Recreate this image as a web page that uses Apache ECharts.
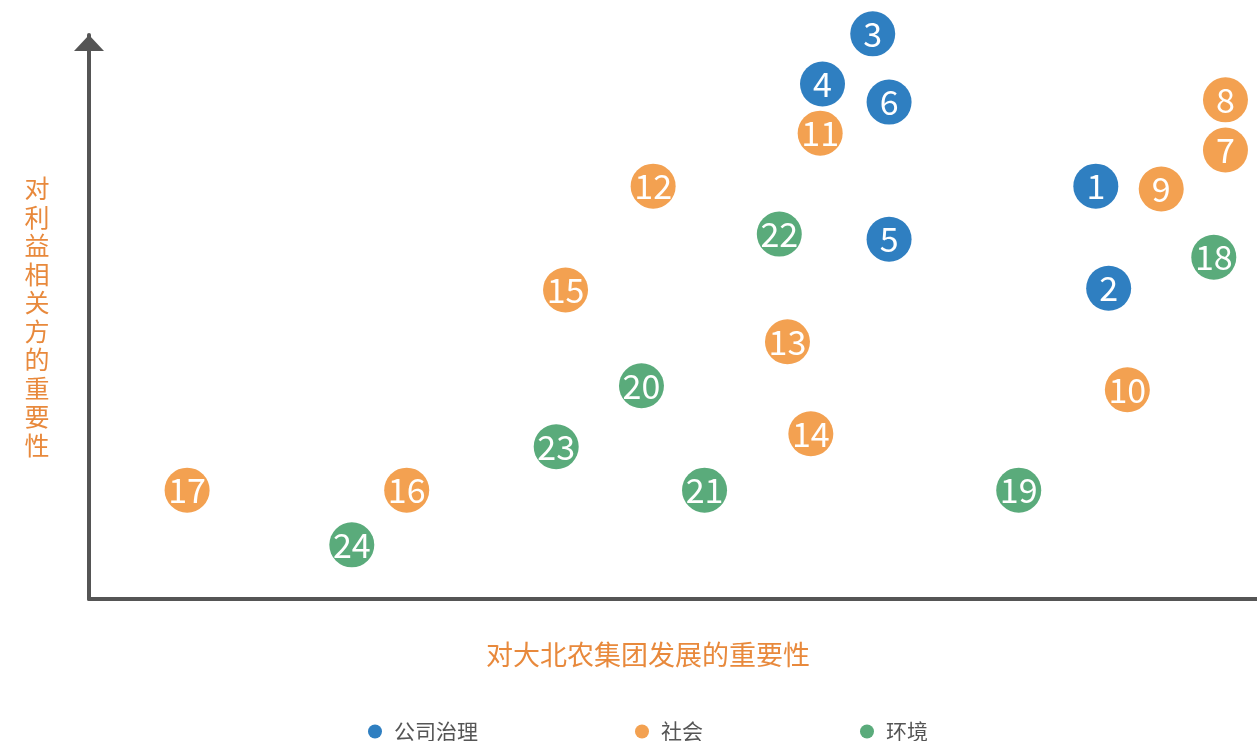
<!DOCTYPE html>
<html>
<head>
<meta charset="utf-8">
<script src="https://cdn.jsdelivr.net/npm/echarts@6/dist/echarts.min.js"></script>
<style>html,body{margin:0;padding:0;background:#fff;}#chart{width:1257px;height:741px;}</style>
</head>
<body>
<div id="chart"></div>
<script>
// category names
const categories = ['公司治理', '社会', '环境'];
const colors = ['#2f7fc1', '#f3a151', '#5aab7b'];
// [x: importance to company, y: importance to stakeholders, issue id]
const governance = [
  [86.2, 73.2, 1], [87.3, 55.1, 2], [67.1, 100.2, 3], [62.8, 91.3, 4], [68.5, 63.8, 5], [68.5, 88.1, 6]
];
const social = [
  [97.3, 79.6, 7], [97.3, 88.5, 8], [91.8, 72.7, 9], [88.9, 37.1, 10], [62.6, 82.6, 11], [48.3, 73.2, 12],
  [59.8, 45.6, 13], [61.8, 29.3, 14], [40.8, 54.8, 15], [27.2, 19.3, 16], [8.4, 19.3, 17]
];
const environment = [
  [96.3, 60.6, 18], [79.6, 19.3, 19], [47.3, 37.8, 20], [52.7, 19.3, 21], [59.1, 64.7, 22], [40.0, 27.0, 23], [22.5, 9.6, 24]
];
const xAxisName = '对大北农集团发展的重要性';
const yAxisName = '对利益相关方的重要性';

const chart = echarts.init(document.getElementById('chart'));
const seriesData = [governance, social, environment];
const numFont = '"Noto Sans CJK SC", "Source Sans Pro", sans-serif';
chart.setOption({
  animation: false,
  color: colors,
  grid: { left: 89, right: 0, top: 35, bottom: 142, containLabel: false },
  legend: {
    bottom: -6,
    left: 363,
    data: categories,
    icon: 'circle',
    itemWidth: 28,
    itemHeight: 14,
    itemGap: 157,
    textStyle: { fontSize: 21, color: '#555', fontFamily: numFont }
  },
  xAxis: {
    type: 'value', min: 0, max: 100,
    splitLine: { show: false }, axisTick: { show: false }, axisLabel: { show: false },
    axisLine: { show: true, lineStyle: { color: '#555', width: 4 } },
    name: xAxisName, nameLocation: 'middle', nameGap: 42,
    nameTextStyle: { fontSize: 27, color: '#e8893c', fontFamily: numFont, padding: [0, 50, 0, 0] }
  },
  yAxis: {
    type: 'value', min: 0, max: 100,
    splitLine: { show: false }, axisTick: { show: false }, axisLabel: { show: false },
    axisLine: { show: true, symbol: ['none', 'triangle'], symbolSize: [30, 16], symbolOffset: [0, -8], lineStyle: { color: '#555', width: 4 } },
    name: yAxisName.split('').join('\n'), nameLocation: 'middle', nameRotate: 0, nameGap: 52,
    nameTextStyle: { fontSize: 25, lineHeight: 28.5, color: '#e8893c', fontFamily: numFont, align: 'center' }
  },
  series: categories.map((name, i) => ({
    name,
    type: 'scatter',
    clip: false,
    symbolSize: 45,
    data: seriesData[i],
    itemStyle: { color: colors[i], opacity: 1 },
    label: {
      show: true, position: 'inside',
      formatter: p => String(p.value[2]),
      color: '#fff', fontSize: 34, fontFamily: numFont
    },
    emphasis: { disabled: true }
  }))
});
</script>
</body>
</html>
